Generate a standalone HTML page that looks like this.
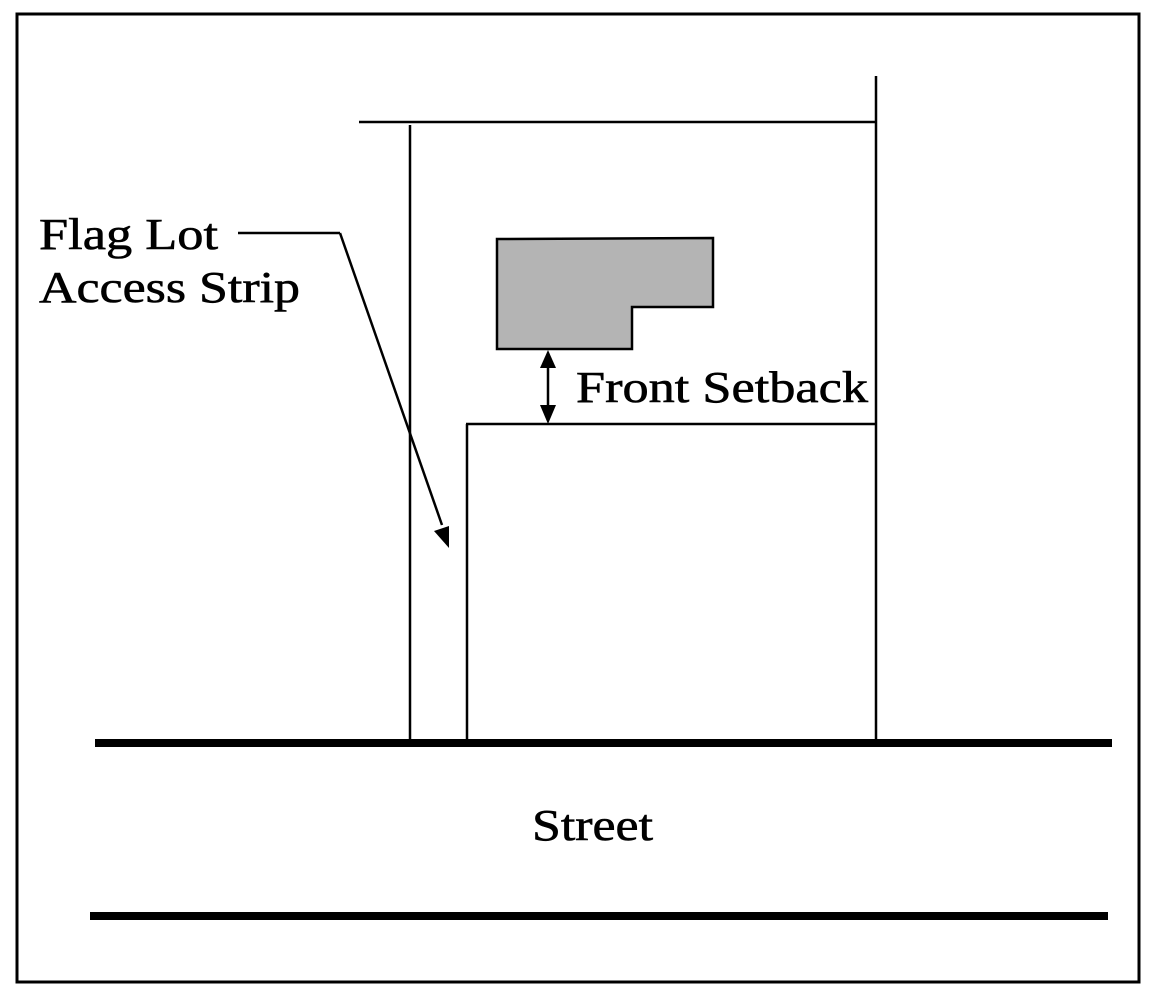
<!DOCTYPE html>
<html><head><meta charset="utf-8"><style>html,body{margin:0;padding:0;background:#fff}svg{display:block}</style></head>
<body>
<svg width="1158" height="999" xmlns="http://www.w3.org/2000/svg">
<rect x="17" y="14" width="1122" height="968" fill="none" stroke="#000" stroke-width="3"/>
<g stroke="#000" stroke-width="2.5" fill="none">
<line x1="359" y1="122" x2="877" y2="122"/>
<line x1="410" y1="125" x2="410" y2="742"/>
<line x1="876" y1="76" x2="876" y2="742"/>
<line x1="467" y1="424" x2="467" y2="742"/>
<line x1="466" y1="424" x2="876" y2="424"/>
<line x1="238" y1="233" x2="340" y2="233"/>
<line x1="340" y1="233" x2="442" y2="525"/>
<line x1="548" y1="365" x2="548" y2="410"/>
</g>
<polygon points="434,531 449,526 449,548" fill="#000"/>
<polygon points="548,350 540,368 556,368" fill="#000"/>
<polygon points="548,424 540,405 556,405" fill="#000"/>
<polygon points="497,239 713,238 713,307 632,307 632,349 497,349" fill="#b4b4b4" stroke="#000" stroke-width="2.5"/>
<rect x="95" y="739" width="1017" height="8" fill="#000"/>
<rect x="90" y="912" width="1018" height="8" fill="#000"/>
<g font-family="Liberation Serif, serif" font-size="44" fill="#000" stroke="#000" stroke-width="0.6" lengthAdjust="spacingAndGlyphs">
<text x="39" y="249" textLength="179" lengthAdjust="spacingAndGlyphs">Flag Lot</text>
<text x="39" y="302" textLength="261" lengthAdjust="spacingAndGlyphs">Access Strip</text>
<text x="576" y="402" textLength="292" lengthAdjust="spacingAndGlyphs">Front Setback</text>
<text x="532" y="840" textLength="121" lengthAdjust="spacingAndGlyphs">Street</text>
</g>
</svg>
</body></html>
